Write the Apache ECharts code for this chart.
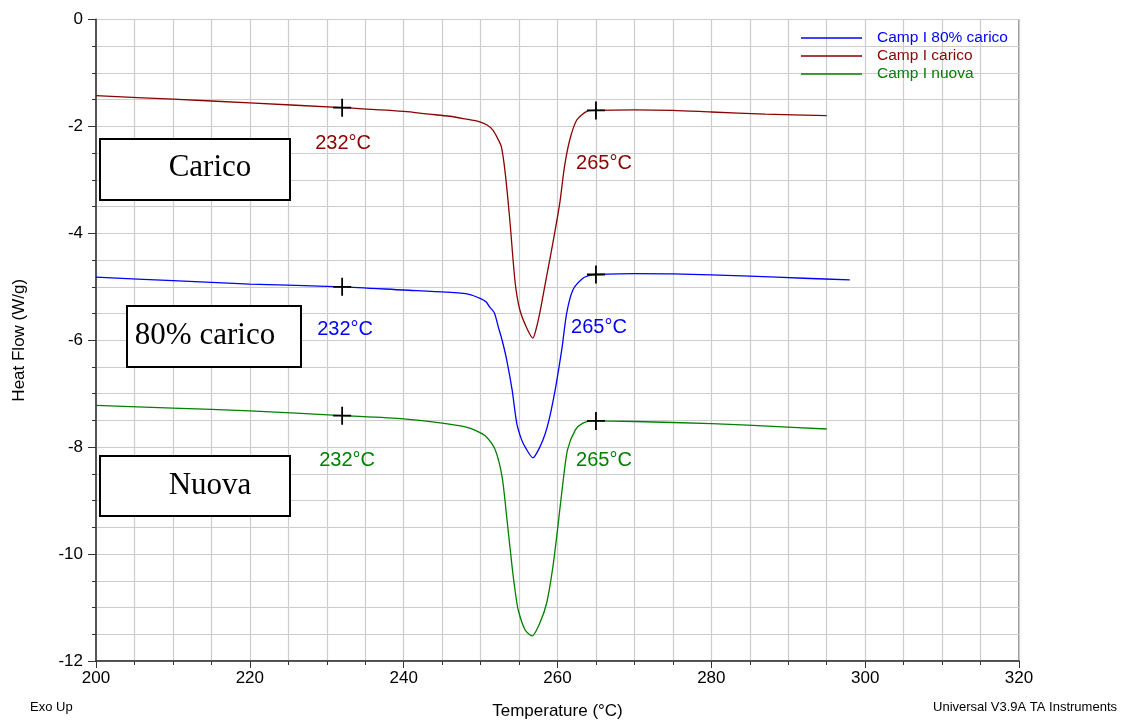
<!DOCTYPE html>
<html>
<head>
<meta charset="utf-8">
<script src="https://cdn.jsdelivr.net/npm/echarts@6/dist/echarts.min.js"></script>
<style>
  html, body { margin: 0; padding: 0; background: #fff; }
  #chart { width: 1122px; height: 721px; }
</style>
</head>
<body>
<div id="chart"></div>
<script>
// DSC heat-flow curves: [temperature °C, heat flow W/g]
const seriesNames = ['Camp I 80% carico', 'Camp I carico', 'Camp I nuova'];

const camp80Carico = [
  [200, -4.82], [210, -4.885], [220, -4.95], [232, -5.0], [240, -5.06], [245.5, -5.10],
  [248.5, -5.14], [250, -5.22], [250.7, -5.28], [251.2, -5.38], [251.8, -5.49], [252.3, -5.75],
  [252.8, -6.0], [253.4, -6.37], [254.1, -6.93], [254.7, -7.55], [255.3, -7.85], [255.8, -8.0],
  [256.8, -8.2], [257.7, -8.0], [258.4, -7.75], [259.0, -7.43], [259.7, -6.93], [260.2, -6.5],
  [260.6, -6.13], [261.2, -5.49], [262.0, -5.06], [263.3, -4.84], [264.3, -4.78], [265, -4.77],
  [270, -4.755], [275, -4.76], [285, -4.80], [292, -4.84], [298, -4.87]
];

const campCarico = [
  [200, -1.425], [210, -1.49], [220, -1.56], [232, -1.65], [240, -1.72], [243.3, -1.77],
  [246, -1.81], [248, -1.86], [249.8, -1.91], [250.8, -1.97], [251.6, -2.07], [252.2, -2.22],
  [252.7, -2.38], [253.2, -2.87], [253.8, -3.75], [254.5, -4.93], [255.1, -5.43], [256.0, -5.77],
  [256.8, -5.96], [257.2, -5.80], [257.7, -5.49], [258.5, -4.87], [259.4, -4.18], [260.3, -3.43],
  [260.9, -2.76], [261.6, -2.25], [262.5, -1.88], [263.8, -1.72], [265, -1.70], [270, -1.69],
  [275, -1.70], [280, -1.73], [287, -1.77], [295, -1.80]
];

const campNuova = [
  [200, -7.22], [210, -7.27], [220, -7.32], [232, -7.41], [240, -7.47], [245, -7.55],
  [248, -7.62], [249.4, -7.69], [250.7, -7.80], [251.9, -8.05], [252.8, -8.56], [253.4, -9.31],
  [254.1, -10.24], [254.5, -10.7], [254.9, -11.05], [255.8, -11.42], [256.7, -11.53], [257.7, -11.29],
  [258.6, -10.91], [259.4, -10.24], [260.1, -9.42], [260.7, -8.67], [261.3, -8.05], [262.3, -7.68],
  [263.3, -7.55], [264.6, -7.51], [270, -7.52], [280, -7.56], [288, -7.61], [295, -7.66]
];

// onset / endset marks (temperature, heat flow)
const marks80Carico = [[232, -5.0], [265, -4.77]];
const marksCarico = [[232, -1.65], [265, -1.70]];
const marksNuova = [[232, -7.41], [265, -7.51]];

const xTicks = { min: 200, max: 320, step: 20 };
const yTicks = { min: -12, max: 0, step: 2 };

const colors = ['#0000FF', '#8B0000', '#008000'];
const curves = [camp80Carico, campCarico, campNuova];
const markSets = [marks80Carico, marksCarico, marksNuova];
// label offsets (px) for each temperature mark, relative to the cross
const labelOffsets = [
  [[3, 43], [3, 53]],
  [[1, 36], [8, 53]],
  [[5, 45], [8, 40]]
];

const crossPath = 'path://M9,0h2v9h9v2h-9v9h-2v-9h-9v-2h9z';

const series = [];
curves.forEach((data, i) => {
  series.push({
    name: seriesNames[i],
    type: 'line',
    data: data,
    showSymbol: false,
    smooth: 0.25,
    lineStyle: { color: colors[i], width: 1.3 },
    itemStyle: { color: colors[i] },
    z: 3
  });
});
markSets.forEach((marks, i) => {
  series.push({
    type: 'scatter',
    data: marks.map((p, k) => ({
      value: p,
      label: { offset: labelOffsets[i][k] }
    })),
    symbol: crossPath,
    symbolSize: 18,
    itemStyle: { color: '#000', opacity: 1 },
    label: {
      show: true,
      position: 'inside',
      formatter: p => p.value[0] + '°C',
      color: colors[i],
      opacity: 1,
      fontFamily: 'Liberation Sans, Arial, sans-serif',
      fontSize: 20
    },
    z: 4
  });
});

const boxes = [
  { text: 'Carico', x: 99, y: 138, w: 190, h: 61, tx: 210, ty: 168 },
  { text: '80% carico', x: 126, y: 305, w: 174, h: 61, tx: 205, ty: 336 },
  { text: 'Nuova', x: 99, y: 455, w: 190, h: 60, tx: 210, ty: 486 }
];
const graphic = [];
boxes.forEach(b => {
  graphic.push({
    type: 'rect', left: b.x, top: b.y, z: 10,
    shape: { width: b.w, height: b.h },
    style: { fill: '#fff', stroke: '#000', lineWidth: 2 }
  });
  graphic.push({
    type: 'text', x: b.tx, y: b.ty, z: 11,
    style: {
      text: b.text, fill: '#000', font: '31px "Liberation Serif", "Times New Roman", serif',
      align: 'center', verticalAlign: 'middle'
    }
  });
});
graphic.push({
  type: 'text', left: 30, top: 701,
  style: { text: 'Exo Up', fill: '#000', font: '13px "Liberation Sans", Arial, sans-serif' }
});
graphic.push({
  type: 'text', right: 5, top: 701,
  style: { text: 'Universal V3.9A TA Instruments', fill: '#000', font: '13px "Liberation Sans", Arial, sans-serif' }
});

const chart = echarts.init(document.getElementById('chart'), null, { renderer: 'canvas' });
chart.setOption({
  animation: false,
  backgroundColor: '#fff',
  textStyle: { fontFamily: 'Liberation Sans, Arial, sans-serif' },
  grid: {
    left: 96, right: 103, top: 19.5, bottom: 60,
    outerBoundsMode: 'none',
    containLabel: false,
    show: true, borderColor: '#333', borderWidth: 1, backgroundColor: 'transparent'
  },
  legend: {
    orient: 'vertical',
    left: 801, top: 30,
    padding: 0,
    itemGap: 2,
    itemWidth: 61,
    itemHeight: 1.3,
    icon: 'rect',
    selectedMode: false,
    data: seriesNames.map((n, i) => ({ name: n, textStyle: { color: colors[i] } })),
    textStyle: { fontSize: 15.5, padding: [0, 0, 0, 10], lineHeight: 13 }
  },
  xAxis: {
    type: 'value',
    min: xTicks.min, max: xTicks.max, interval: xTicks.step,
    name: 'Temperature (°C)',
    nameLocation: 'middle',
    nameGap: 42,
    nameTextStyle: { fontSize: 17, color: '#000' },
    axisLine: { show: true, onZero: false, lineStyle: { color: '#333', width: 1.5 } },
    axisTick: { show: true, length: 7, lineStyle: { color: '#333' } },
    minorTick: { show: true, splitNumber: 4, length: 4, lineStyle: { color: '#333' } },
    axisLabel: { fontSize: 17, color: '#000', margin: 9 },
    splitLine: { show: true, lineStyle: { color: '#cccccc', width: 1.2 } },
    minorSplitLine: { show: true, lineStyle: { color: '#cccccc', width: 1.2 } }
  },
  yAxis: {
    type: 'value',
    min: yTicks.min, max: yTicks.max, interval: yTicks.step,
    name: 'Heat Flow (W/g)',
    nameLocation: 'middle',
    nameGap: 68,
    nameTextStyle: { fontSize: 17, color: '#000' },
    axisLine: { show: true, onZero: false, lineStyle: { color: '#555', width: 2 } },
    axisTick: { show: true, length: 8, lineStyle: { color: '#333' } },
    minorTick: { show: true, splitNumber: 4, length: 4, lineStyle: { color: '#333' } },
    axisLabel: { fontSize: 17, color: '#000', margin: 13 },
    splitLine: { show: true, lineStyle: { color: '#cccccc', width: 1.2 } },
    minorSplitLine: { show: true, lineStyle: { color: '#cccccc', width: 1.2 } }
  },
  series: series,
  graphic: graphic
});
</script>
</body>
</html>
